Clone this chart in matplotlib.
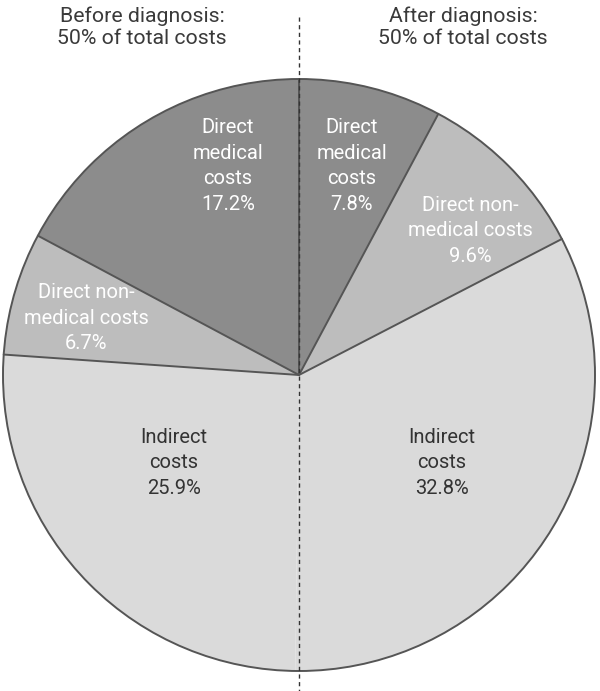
import matplotlib
matplotlib.use("Agg")
import matplotlib.pyplot as plt
import numpy as np
from matplotlib.patches import Circle

categories = ["Direct medical costs (after)", "Direct non-medical costs (after)", "Indirect costs (after)",
              "Indirect costs (before)", "Direct non-medical costs (before)", "Direct medical costs (before)"]
values = [7.8, 9.6, 32.8, 25.9, 6.7, 17.2]
labels = ["Direct\nmedical\ncosts\n7.8%", "Direct non-\nmedical costs\n9.6%", "Indirect\ncosts\n32.8%",
          "Indirect\ncosts\n25.9%", "Direct non-\nmedical costs\n6.7%", "Direct\nmedical\ncosts\n17.2%"]
headers = ["Before diagnosis:\n50% of total costs", "After diagnosis:\n50% of total costs"]

colors = ["#8c8c8c", "#bdbdbd", "#dadada", "#dadada", "#bdbdbd", "#8c8c8c"]
text_colors = ["white", "white", "#333333", "#333333", "white", "white"]

plt.rcParams['font.family'] = ['Roboto', 'DejaVu Sans']

W, H = 600, 691
cx, cy, R = 299, 375, 296
fig = plt.figure(figsize=(W / 100, H / 100), dpi=100)
ax = fig.add_axes([0, 0, 1, 1])

ax.pie(values, colors=colors, startangle=90, counterclock=False, radius=1.0,
       wedgeprops=dict(linewidth=0))
ax.set_xlim(-cx / R, (W - cx) / R)
ax.set_ylim((cy - H) / R, cy / R)
ax.set_aspect('auto')
ax.axis('off')

edge = "#555555"
cum = np.concatenate([[0], np.cumsum(values)[:-1]])
for i, c in enumerate(cum):
    if i == 3:
        continue  # boundary between the two indirect-cost slices is not drawn
    ang = np.deg2rad(90 - 360 * c / sum(values))
    ax.plot([0, np.cos(ang)], [0, np.sin(ang)], color=edge, lw=1.4, solid_capstyle='round', zorder=3)
ax.add_patch(Circle((0, 0), 1.0, fill=False, edgecolor=edge, lw=1.4, zorder=3))

def d(px, py):
    return (px - cx) / R, (cy - py) / R

label_pos = [(352, 166), (470, 231), (442, 463), (174, 463), (86, 318), (228, 166)]
for lab, (px, py), tc in zip(labels, label_pos, text_colors):
    x, y = d(px, py)
    ax.text(x, y, lab, ha='center', va='center', color=tc, fontsize=14.5, linespacing=1.45)

for h, px in zip(headers, [142, 463]):
    x, y = d(px, 27)
    ax.text(x, y, h, ha='center', va='center', color='#3a3a3a', fontsize=15.3, linespacing=1.2)

x0, y0 = d(cx, 17)
x1, y1 = d(cx, 691)
ax.plot([x0, x1], [y0, y1], color='#333333', lw=1.0, ls=(0, (3, 2.5)), zorder=5)

fig.savefig("out.png", dpi=100)
